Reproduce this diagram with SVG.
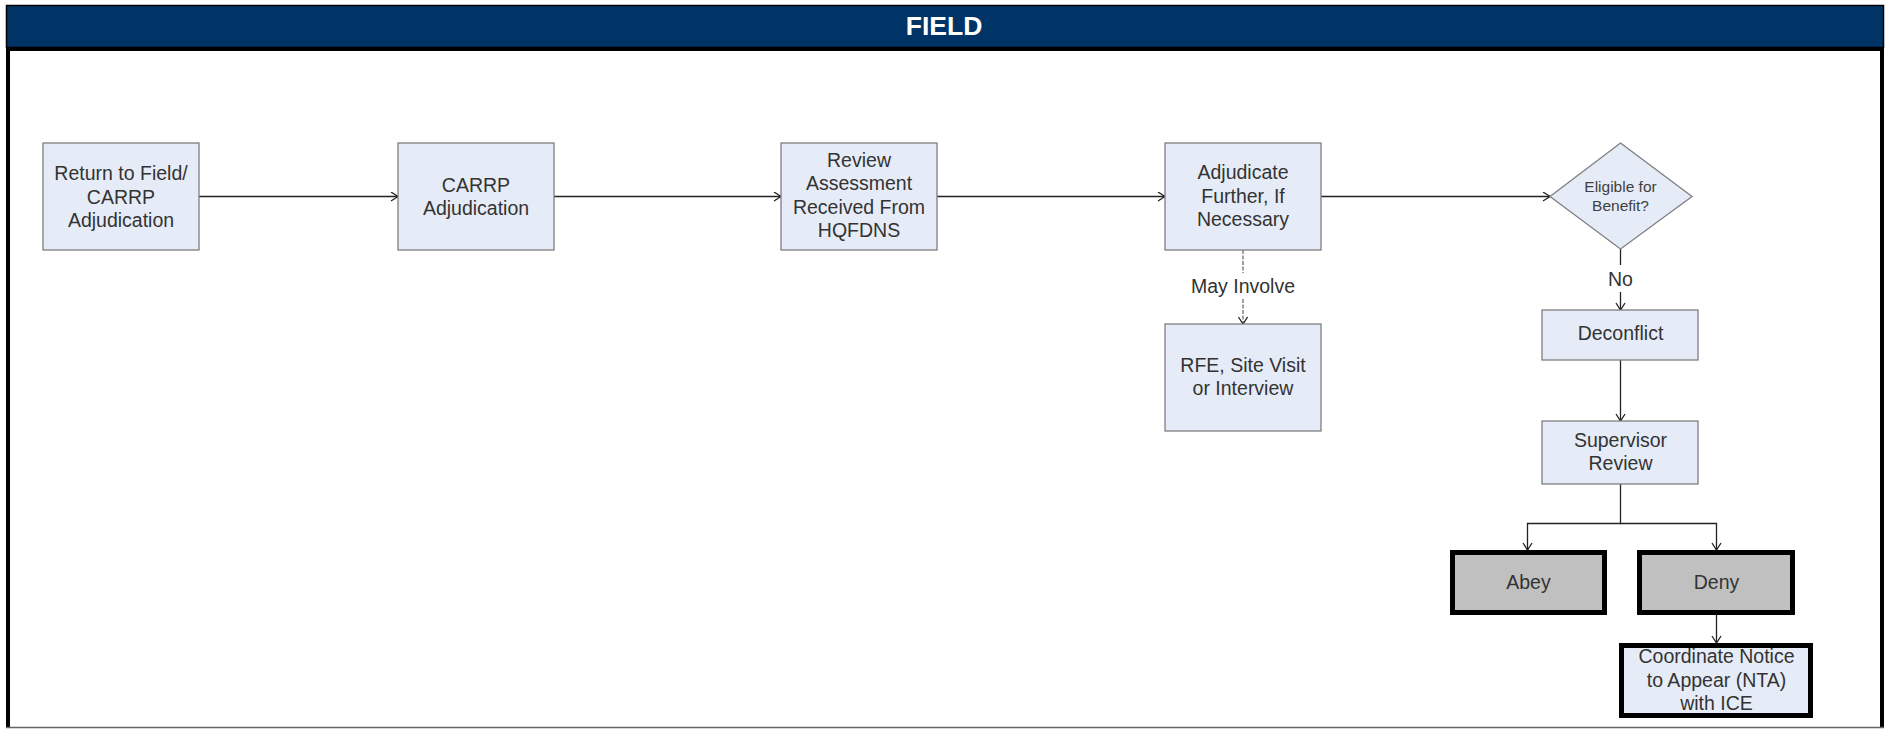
<svg xmlns="http://www.w3.org/2000/svg" width="1887" height="729" viewBox="0 0 1887 729">
<defs>
<marker id="arr" markerUnits="userSpaceOnUse" markerWidth="12" markerHeight="12" refX="8" refY="5" orient="auto">
<path d="M1,0.5 L8,5 L1,9.5" fill="none" stroke="#222" stroke-width="1.3"/>
</marker>
<style>
.box{fill:#e6ecf7;stroke:#7f7f7f;stroke-width:1.3}
.bold{stroke:#000;stroke-width:5}
.grey{fill:#c0c0c0}
.lb{fill:#e6ecf7}
.t{font-family:"Liberation Sans",Arial,sans-serif;font-size:19.5px;fill:#333;text-anchor:middle}
.ts{font-family:"Liberation Sans",Arial,sans-serif;font-size:15.5px;fill:#404040;text-anchor:middle}
.c{fill:none;stroke:#222;stroke-width:1.3}
.d{fill:none;stroke:#555;stroke-width:1.1;stroke-dasharray:4 1.5}
</style>
</defs>
<rect x="0" y="0" width="1887" height="729" fill="#fff"/>
<g id="frame">
<rect x="6.5" y="5.5" width="1877" height="42" fill="#003466" stroke="#000" stroke-width="1.5"/>
<rect x="6" y="47" width="1878" height="4" fill="#000"/>
<rect x="6" y="47" width="4" height="681" fill="#000"/>
<rect x="1880" y="47" width="4" height="681" fill="#000"/>
<line x1="6" y1="727.5" x2="1884" y2="727.5" stroke="#666" stroke-width="1.5"/>
<text x="944" y="35" font-family="'Liberation Sans',Arial,sans-serif" font-size="26.5" font-weight="bold" fill="#fff" text-anchor="middle">FIELD</text>
</g>
<g id="connectors">
<line class="c" x1="199" y1="196.5" x2="398" y2="196.5" marker-end="url(#arr)"/>
<line class="c" x1="554" y1="196.5" x2="781" y2="196.5" marker-end="url(#arr)"/>
<line class="c" x1="937" y1="196.5" x2="1165" y2="196.5" marker-end="url(#arr)"/>
<line class="c" x1="1321" y1="196.5" x2="1550" y2="196.5" marker-end="url(#arr)"/>
<line class="d" x1="1243" y1="250" x2="1243" y2="273"/>
<line class="d" x1="1243" y1="299" x2="1243" y2="324" marker-end="url(#arr)"/>
<text class="t" x="1243" y="293">May Involve</text>
<line class="c" x1="1620.5" y1="249" x2="1620.5" y2="265"/>
<line class="c" x1="1620.5" y1="292" x2="1620.5" y2="310" marker-end="url(#arr)"/>
<text class="t" x="1620.5" y="286">No</text>
<line class="c" x1="1620.5" y1="360" x2="1620.5" y2="421" stroke="#555" marker-end="url(#arr)"/>
<path class="c" d="M1620.5,484 V523.5 H1527.5 V550" marker-end="url(#arr)"/>
<path class="c" d="M1620.5,523.5 H1716.5 V550" marker-end="url(#arr)"/>
<line class="c" x1="1716.5" y1="615" x2="1716.5" y2="643" marker-end="url(#arr)"/>
</g>
<g id="n1"><rect class="box" x="43" y="143" width="156" height="107"/>
<text class="t" x="121" y="180">Return to Field/</text><text class="t" x="121" y="204">CARRP</text><text class="t" x="121" y="227">Adjudication</text></g>
<g id="n2"><rect class="box" x="398" y="143" width="156" height="107"/>
<text class="t" x="476" y="192">CARRP</text><text class="t" x="476" y="215">Adjudication</text></g>
<g id="n3"><rect class="box" x="781" y="143" width="156" height="107"/>
<text class="t" x="859" y="167">Review</text><text class="t" x="859" y="190">Assessment</text><text class="t" x="859" y="214">Received From</text><text class="t" x="859" y="237">HQFDNS</text></g>
<g id="n4"><rect class="box" x="1165" y="143" width="156" height="107"/>
<text class="t" x="1243" y="179">Adjudicate</text><text class="t" x="1243" y="203">Further, If</text><text class="t" x="1243" y="226">Necessary</text></g>
<g id="n5"><rect class="box" x="1165" y="324" width="156" height="107"/>
<text class="t" x="1243" y="372">RFE, Site Visit</text><text class="t" x="1243" y="395">or Interview</text></g>
<g id="n6"><polygon class="box" points="1620.5,143 1692,196.5 1620.5,249 1550,196.5"/>
<text class="ts" x="1620.5" y="191.5">Eligible for</text><text class="ts" x="1620.5" y="210.5">Benefit?</text></g>
<g id="n7"><rect class="box" x="1542" y="310" width="156" height="50"/>
<text class="t" x="1620.5" y="340">Deconflict</text></g>
<g id="n8"><rect class="box" x="1542" y="421" width="156" height="63"/>
<text class="t" x="1620.5" y="447">Supervisor</text><text class="t" x="1620.5" y="470">Review</text></g>
<g id="n9"><rect class="grey bold" x="1452.5" y="552.5" width="152" height="60"/>
<text class="t" x="1528.5" y="589">Abey</text></g>
<g id="n10"><rect class="grey bold" x="1639.5" y="552.5" width="153" height="60"/>
<text class="t" x="1716.5" y="589">Deny</text></g>
<g id="n11"><rect class="lb bold" x="1621.5" y="645.5" width="189" height="70"/>
<text class="t" x="1716.5" y="663">Coordinate Notice</text><text class="t" x="1716.5" y="687">to Appear (NTA)</text><text class="t" x="1716.5" y="710">with ICE</text></g>
</svg>
